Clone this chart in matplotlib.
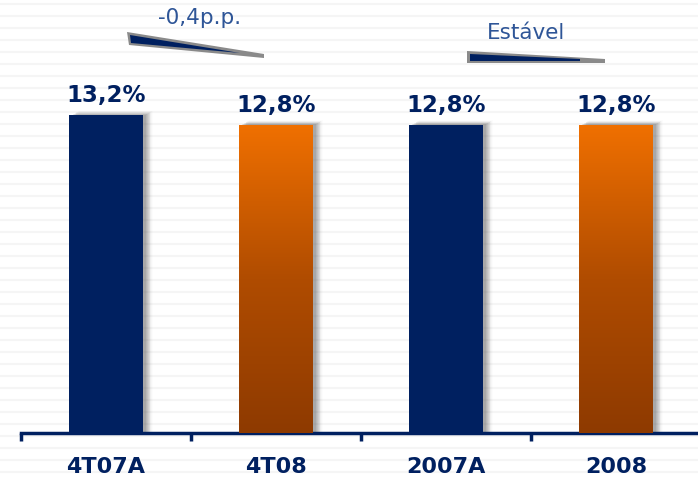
import numpy as np
import matplotlib
matplotlib.use("Agg")
import matplotlib.pyplot as plt
from matplotlib.patches import Polygon, Rectangle
from matplotlib.colors import LinearSegmentedColormap

# dados
categorias = ["4T07A", "4T08", "2007A", "2008"]
valores = [13.2, 12.8, 12.8, 12.8]
rotulos = ["13,2%", "12,8%", "12,8%", "12,8%"]
laranja = [False, True, False, True]

navy = "#002060"
W, H = 698, 480
fig = plt.figure(figsize=(W / 100, H / 100), dpi=100)
fig.patch.set_facecolor("white")

# fundo listrado
for y in range(4, H, 12):
    fig.add_artist(plt.Line2D([0, 1], [1 - y / H, 1 - y / H], transform=fig.transFigure,
                              color="#f5f5f5", lw=1.5, zorder=0))

# eixos: base em y=433px, categorias com 170px de largura a partir de x=21
ax = fig.add_axes([21 / W, 47 / H, 680 / W, 433 / H])
ax.patch.set_alpha(0)

x = np.arange(len(categorias))
largura = 74 / 170

cmap = LinearSegmentedColormap.from_list("lar", ["#8e3a00", "#b04c00", "#f07000"])

for xi, v, lab, lar in zip(x, valores, rotulos, laranja):
    # sombra
    for k, a in zip(range(1, 10), np.linspace(0.12, 0.015, 9)):
        dx = k * 0.9 / 170
        ax.add_patch(Rectangle((xi - largura / 2 + 2 / 170 + dx, 0), largura, v + k * 0.5 / 24.09,
                               color="#505050", alpha=a, lw=0, zorder=1))
    b = ax.bar(xi, v, width=largura, color=navy, zorder=2, lw=0)[0]
    if lar:
        grad = np.linspace(0, 1, 256).reshape(-1, 1)
        im = ax.imshow(grad, cmap=cmap, aspect="auto", origin="lower",
                       extent=[xi - largura / 2, xi + largura / 2, 0, v], zorder=3)
        im.set_clip_path(b)
    ax.text(xi, v + 8 / 24.09, lab, ha="center", va="bottom", fontsize=16.5,
            fontweight="bold", color=navy, zorder=4)

ax.set_xlim(-0.5, 3.5)
ax.set_ylim(0, 433 / 24.09)

for s in ["top", "right", "left"]:
    ax.spines[s].set_visible(False)
ax.spines["bottom"].set_color(navy)
ax.spines["bottom"].set_linewidth(2.5)
ax.set_yticks([])
ax.set_xticks([-0.5, 0.5, 1.5, 2.5])
ax.set_xticklabels([])
ax.tick_params(axis="x", direction="out", length=6, width=2.5, color=navy)
ax.set_xticks(x, minor=True)
ax.set_xticklabels(categorias, minor=True)
ax.tick_params(axis="x", which="minor", length=0, pad=17, labelsize=16,
               labelcolor=navy)
for t in ax.get_xticklabels(minor=True):
    t.set_fontweight("bold")


def px(pts):
    return [(a / W, 1 - b / H) for a, b in pts]


# setas de variação
fig.add_artist(Polygon(px([(127, 32), (264, 54), (264, 58), (129, 45)]),
                       closed=True, transform=fig.transFigure, fc="#8a8a8a", ec="none"))
fig.add_artist(Polygon(px([(130, 35), (240, 53), (131, 43)]),
                       closed=True, transform=fig.transFigure, fc=navy, ec="none"))
fig.text(200 / W, 1 - 18 / H, "-0,4p.p.", ha="center", va="center", fontsize=15.5,
         color="#2e5597")

fig.add_artist(Polygon(px([(467, 51), (605, 59), (605, 63), (467, 63)]),
                       closed=True, transform=fig.transFigure, fc="#8a8a8a", ec="none"))
fig.add_artist(Polygon(px([(470, 54), (580, 59), (580, 61), (470, 61)]),
                       closed=True, transform=fig.transFigure, fc=navy, ec="none"))
fig.text(526 / W, 1 - 33 / H, "Estável", ha="center", va="center", fontsize=15.5,
         color="#2e5597")

fig.savefig("out.png", dpi=100, facecolor="white")
